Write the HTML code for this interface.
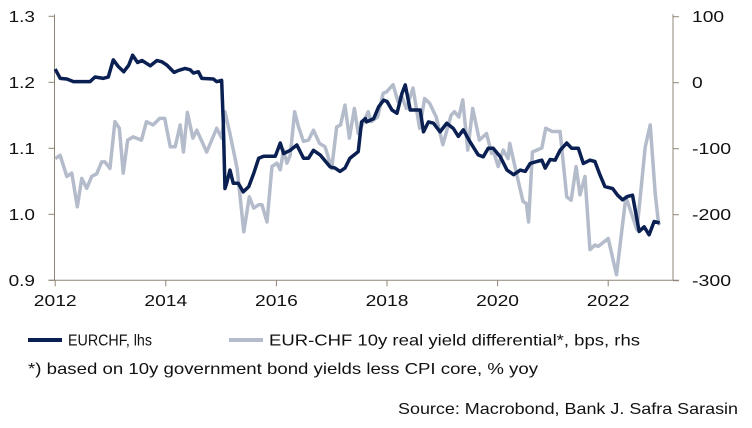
<!DOCTYPE html>
<html><head><meta charset="utf-8"><style>
body{margin:0;background:#fff;}
svg{display:block;font-family:"Liberation Sans",sans-serif;}
</style></head><body>
<svg id="chart" width="752" height="428"></svg>
<script>
const years=[2012,2014,2016,2018,2020,2022];
const leftTicks=[0.9,1.0,1.1,1.2,1.3];
const leftTickLabels=["0.9","1.0","1.1","1.2","1.3"];
const rightTicks=[-300,-200,-100,0,100];
const rightTickLabels=["-300","-200","-100","0","100"];
const eurDates=[2012.0,2012.09,2012.21,2012.33,2012.63,2012.72,2012.87,2012.96,2013.05,2013.14,2013.24,2013.33,2013.40,2013.49,2013.57,2013.72,2013.84,2013.93,2014.02,2014.15,2014.23,2014.35,2014.44,2014.50,2014.59,2014.65,2014.86,2014.92,2015.01,2015.04,2015.07,2015.10,2015.16,2015.22,2015.31,2015.40,2015.50,2015.59,2015.68,2015.77,2015.98,2016.07,2016.13,2016.25,2016.37,2016.49,2016.58,2016.67,2016.79,2016.97,2017.06,2017.15,2017.24,2017.33,2017.48,2017.54,2017.61,2017.63,2017.76,2017.85,2017.94,2018.00,2018.09,2018.18,2018.27,2018.33,2018.42,2018.51,2018.60,2018.66,2018.75,2018.84,2018.96,2019.08,2019.20,2019.29,2019.38,2019.50,2019.65,2019.74,2019.83,2019.92,2020.05,2020.17,2020.29,2020.41,2020.50,2020.59,2020.71,2020.80,2020.86,2020.95,2021.04,2021.13,2021.25,2021.34,2021.46,2021.55,2021.67,2021.76,2021.85,2021.94,2022.08,2022.17,2022.26,2022.35,2022.44,2022.56,2022.65,2022.74,2022.83,2022.93];
const eurValues=[1.220,1.206,1.205,1.201,1.201,1.208,1.206,1.208,1.234,1.224,1.216,1.226,1.241,1.230,1.233,1.225,1.233,1.231,1.226,1.215,1.218,1.221,1.219,1.214,1.216,1.206,1.205,1.201,1.203,1.138,1.039,1.047,1.067,1.047,1.047,1.034,1.042,1.062,1.085,1.088,1.088,1.108,1.092,1.097,1.105,1.085,1.085,1.097,1.090,1.072,1.070,1.065,1.070,1.085,1.095,1.140,1.145,1.140,1.145,1.163,1.173,1.171,1.158,1.153,1.183,1.196,1.158,1.158,1.158,1.125,1.140,1.138,1.125,1.138,1.130,1.118,1.128,1.110,1.090,1.087,1.100,1.100,1.087,1.067,1.060,1.067,1.065,1.077,1.080,1.082,1.070,1.083,1.082,1.097,1.108,1.100,1.100,1.077,1.082,1.080,1.060,1.042,1.039,1.029,1.022,1.027,1.029,0.974,0.981,0.969,0.989,0.987];
const diffDates=[2012.0,2012.09,2012.21,2012.30,2012.40,2012.48,2012.57,2012.66,2012.75,2012.84,2012.90,2012.99,2013.08,2013.16,2013.23,2013.31,2013.41,2013.56,2013.65,2013.77,2013.89,2013.98,2014.08,2014.17,2014.26,2014.32,2014.39,2014.49,2014.56,2014.74,2014.92,2015.01,2015.07,2015.16,2015.29,2015.41,2015.51,2015.59,2015.68,2015.74,2015.83,2015.92,2016.01,2016.07,2016.13,2016.19,2016.25,2016.33,2016.40,2016.49,2016.58,2016.67,2016.78,2016.88,2017.00,2017.09,2017.16,2017.24,2017.32,2017.41,2017.48,2017.66,2017.71,2017.83,2017.93,2017.99,2018.11,2018.20,2018.26,2018.35,2018.47,2018.59,2018.68,2018.77,2018.89,2019.01,2019.16,2019.22,2019.30,2019.37,2019.46,2019.55,2019.67,2019.80,2019.89,2019.92,2020.01,2020.10,2020.19,2020.22,2020.34,2020.46,2020.52,2020.56,2020.63,2020.80,2020.87,2020.99,2021.13,2021.25,2021.33,2021.42,2021.49,2021.58,2021.67,2021.76,2021.82,2022.00,2022.15,2022.32,2022.52,2022.67,2022.76,2022.85,2022.91,2022.94];
const diffValues=[-115,-110,-142,-137,-188,-145,-160,-142,-138,-120,-120,-130,-59,-69,-137,-87,-82,-87,-59,-64,-54,-54,-97,-97,-64,-105,-45,-84,-72,-105,-69,-84,-44,-77,-130,-226,-173,-190,-185,-185,-211,-127,-122,-132,-102,-122,-110,-44,-67,-89,-87,-72,-92,-97,-130,-67,-64,-34,-84,-39,-77,-44,-59,-52,-16,-14,-3,-29,-19,-39,-8,-69,-24,-31,-52,-94,-49,-44,-52,-26,-102,-39,-87,-77,-107,-102,-127,-102,-115,-92,-137,-180,-183,-211,-105,-99,-69,-74,-74,-173,-178,-127,-170,-142,-253,-246,-248,-236,-291,-173,-223,-97,-64,-168,-213,-215,-290];

const NS="http://www.w3.org/2000/svg";
const svg=document.getElementById('chart');
const X0=55.2,XPY=55.3,L=54.5,R=673,T=16.3,B=280.3;
const x=d=>X0+(d-2012)*XPY;
const yL=v=>82.3-(v-1.2)*660;
const yR=v=>82.7-v*0.66;
function mk(tag,attrs,parent){const e=document.createElementNS(NS,tag);for(const k in attrs)e.setAttribute(k,attrs[k]);(parent||svg).appendChild(e);return e;}
function tw(s){let w=0;for(const c of s)w+=(c==='.'?5:c==='-'?7:10.7);return w;}
const axisColor="#8f8576";
let a=mk('line',{x1:L,y1:T-2,x2:L,y2:B,stroke:axisColor,'stroke-width':1});

a=mk('line',{x1:R,y1:T-2,x2:R,y2:B,stroke:axisColor,'stroke-width':1});

a=mk('line',{x1:L-6,y1:B,x2:R+6,y2:B,stroke:axisColor,'stroke-width':1});

leftTicks.forEach((v,i)=>{const y=yL(v);
 mk('line',{x1:L-6,y1:y,x2:L,y2:y,stroke:axisColor});
 const s=leftTickLabels[i];
 const t=mk('text',{x:35-tw(s),y:y+5.5,'font-size':16,fill:'#111',textLength:tw(s),lengthAdjust:'spacingAndGlyphs'});t.textContent=s;
 });
rightTicks.forEach((v,i)=>{const y=yR(v);
 mk('line',{x1:R,y1:y,x2:R+6,y2:y,stroke:axisColor});
 const s=rightTickLabels[i];
 const t=mk('text',{x:692,y:y+5.5,'font-size':16,fill:'#111',textLength:tw(s),lengthAdjust:'spacingAndGlyphs'});t.textContent=s;
 });
years.forEach(yr=>{const xx=x(yr);
 mk('line',{x1:xx,y1:B,x2:xx,y2:B+6,stroke:axisColor});
 const s=String(yr);
 const t=mk('text',{x:xx-tw(s)/2,y:306,'font-size':16,fill:'#111',textLength:tw(s),lengthAdjust:'spacingAndGlyphs'});t.textContent=s;
 });
let p=mk('polyline',{points:diffDates.map((d,i)=>x(d)+','+yR(diffValues[i])).join(' '),fill:'none',stroke:'#b4bccb','stroke-width':3.5,'stroke-linejoin':'round'});

p=mk('polyline',{points:eurDates.map((d,i)=>x(d)+','+yL(eurValues[i])).join(' '),fill:'none',stroke:'#0a1f52','stroke-width':3.5,'stroke-linejoin':'round'});

</script>
<svg width="752" height="428" style="position:absolute;left:0;top:0;font-family:'Liberation Sans',sans-serif">
 <g>
  <line x1="28" y1="340" x2="62" y2="340" stroke="#0a1f52" stroke-width="4"/>
  <text x="68" y="345.5" font-size="16" fill="#111" textLength="84" lengthAdjust="spacingAndGlyphs">EURCHF, lhs</text>
 </g>
 <g>
  <line x1="229" y1="340" x2="263" y2="340" stroke="#b4bccb" stroke-width="4"/>
  <text x="269" y="345.5" font-size="16" fill="#111" textLength="371" lengthAdjust="spacingAndGlyphs">EUR-CHF 10y real yield differential*, bps, rhs</text>
 </g>
 <text x="28" y="374" font-size="16" fill="#111" textLength="510" lengthAdjust="spacingAndGlyphs">*) based on 10y government bond yields less CPI core, % yoy</text>
 <text x="398" y="414" font-size="16" fill="#111" textLength="340" lengthAdjust="spacingAndGlyphs">Source: Macrobond, Bank J. Safra Sarasin</text>
</svg>
</body></html>
